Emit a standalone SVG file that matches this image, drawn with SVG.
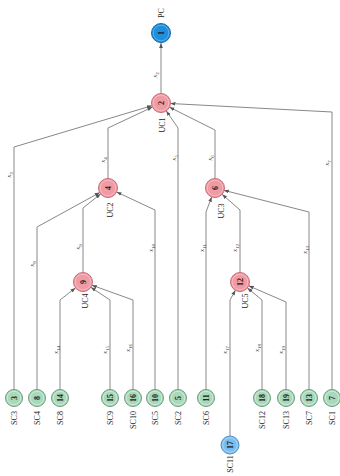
<svg xmlns="http://www.w3.org/2000/svg" width="340" height="476" viewBox="0 0 340 476">
  <defs>
    <marker id="arr" viewBox="0 0 8 6" refX="8" refY="3" markerWidth="5" markerHeight="4" orient="auto" markerUnits="userSpaceOnUse">
      <path d="M0,0 L8,3 L0,6 z" fill="#555"/>
    </marker>
  </defs>
  <style>
    text { font-family: "Liberation Serif", "Times New Roman", serif; fill: #222; text-anchor: middle; dominant-baseline: central; }
    .lbl { font-size: 8px; }
    .num { font-size: 8px; font-weight: bold; }
    .el { font-size: 7px; font-style: italic; fill: #333; }
    .sub { font-size: 5px; font-style: normal; }
    .edge { fill: none; stroke: #888; stroke-width: 1; marker-end: url(#arr); }
    .leaf .o { fill: #a9d9bb; stroke: #6d9d7e; stroke-width: 1; }
    .leaf .i { fill: none; stroke: #d8efe0; stroke-width: 0.8; }
    .mid .o { fill: #f09aa3; stroke: #c86a76; stroke-width: 1; }
    .mid .i { fill: none; stroke: #f8c4c9; stroke-width: 0.8; }
    .root .o { fill: #1f8fdc; stroke: #1468a8; stroke-width: 1; }
    .root .i { fill: none; stroke: #6cb8ee; stroke-width: 0.8; }
    .ext .o { fill: #79bdf0; stroke: #4f90c4; stroke-width: 1; }
    .ext .i { fill: none; stroke: #b9dcf7; stroke-width: 0.8; }
  </style>
  <rect width="340" height="476" fill="#ffffff"/>

  <!-- connectors: vertical run from the child, then a straight run into the parent -->
  <g id="connectors">
    <path class="edge" d="M161,93.5 L161,43"/>
    <path class="edge" d="M14,390 L14,147 L151.9,105.7"/>
    <path class="edge" d="M108,178.5 L108,128 L152.4,107.1"/>
    <path class="edge" d="M178,390 L178,128 L166.3,110.9"/>
    <path class="edge" d="M215,178.5 L215,130 L169.5,107.2"/>
    <path class="edge" d="M332,390 L332,112 L170.5,103.5"/>
    <path class="edge" d="M37,390 L37,227 L99.7,192.6"/>
    <path class="edge" d="M83,272.5 L83,208 L100.6,193.9"/>
    <path class="edge" d="M155,390 L155,210 L116.6,192"/>
    <path class="edge" d="M206,390 L206,212 L211.7,196.9"/>
    <path class="edge" d="M240,272.5 L240,210 L222.1,194.3"/>
    <path class="edge" d="M309,390 L309,212 L223.8,190.3"/>
    <path class="edge" d="M60,390 L60,300 L75.5,287.9"/>
    <path class="edge" d="M110,390 L110,300 L90.9,287.3"/>
    <path class="edge" d="M133,390 L133,300 L91.9,285.2"/>
    <path class="edge" d="M230,436 L230,300 L235.4,290.3"/>
    <path class="edge" d="M262,390 L262,300 L247.4,288"/>
    <path class="edge" d="M286,390 L286,302 L248.7,285.8"/>

    <!-- edge labels -->
    <text class="el" transform="translate(155,75) rotate(-90)">x<tspan class="sub" dy="1.5">2</tspan></text>
    <text class="el" transform="translate(9,175) rotate(-90)">x<tspan class="sub" dy="1.5">3</tspan></text>
    <text class="el" transform="translate(103,160) rotate(-90)">x<tspan class="sub" dy="1.5">4</tspan></text>
    <text class="el" transform="translate(174,158) rotate(-90)">x<tspan class="sub" dy="1.5">5</tspan></text>
    <text class="el" transform="translate(210,158) rotate(-90)">x<tspan class="sub" dy="1.5">6</tspan></text>
    <text class="el" transform="translate(327,163) rotate(-90)">x<tspan class="sub" dy="1.5">7</tspan></text>
    <text class="el" transform="translate(32,264) rotate(-90)">x<tspan class="sub" dy="1.5">8</tspan></text>
    <text class="el" transform="translate(78,247) rotate(-90)">x<tspan class="sub" dy="1.5">9</tspan></text>
    <text class="el" transform="translate(151,248) rotate(-90)">x<tspan class="sub" dy="1.5">10</tspan></text>
    <text class="el" transform="translate(202,248) rotate(-90)">x<tspan class="sub" dy="1.5">11</tspan></text>
    <text class="el" transform="translate(235,248) rotate(-90)">x<tspan class="sub" dy="1.5">12</tspan></text>
    <text class="el" transform="translate(305,250) rotate(-90)">x<tspan class="sub" dy="1.5">13</tspan></text>
    <text class="el" transform="translate(56,350) rotate(-90)">x<tspan class="sub" dy="1.5">14</tspan></text>
    <text class="el" transform="translate(105,350) rotate(-90)">x<tspan class="sub" dy="1.5">15</tspan></text>
    <text class="el" transform="translate(128,348) rotate(-90)">x<tspan class="sub" dy="1.5">16</tspan></text>
    <text class="el" transform="translate(225,350) rotate(-90)">x<tspan class="sub" dy="1.5">17</tspan></text>
    <text class="el" transform="translate(257,348) rotate(-90)">x<tspan class="sub" dy="1.5">18</tspan></text>
    <text class="el" transform="translate(281,350) rotate(-90)">x<tspan class="sub" dy="1.5">19</tspan></text>
  </g>

  <!-- root -->
  <g id="n1" class="root">
    <circle class="o" cx="161" cy="33" r="9.5"/><circle class="i" cx="161" cy="33" r="7.8"/>
    <text class="num" transform="translate(161,33) rotate(-90)">1</text>
    <text class="lbl" transform="translate(161,13) rotate(-90)">PC</text>
  </g>

  <!-- inner nodes -->
  <g id="n2" class="mid">
    <circle class="o" cx="161" cy="103" r="9.5"/><circle class="i" cx="161" cy="103" r="7.8"/>
    <text class="num" transform="translate(161,103) rotate(-90)">2</text>
    <text class="lbl" transform="translate(162,125) rotate(-90)">UC1</text>
  </g>
  <g id="n4" class="mid">
    <circle class="o" cx="108" cy="188" r="9.5"/><circle class="i" cx="108" cy="188" r="7.8"/>
    <text class="num" transform="translate(108,188) rotate(-90)">4</text>
    <text class="lbl" transform="translate(110,210) rotate(-90)">UC2</text>
  </g>
  <g id="n6" class="mid">
    <circle class="o" cx="215" cy="188" r="9.5"/><circle class="i" cx="215" cy="188" r="7.8"/>
    <text class="num" transform="translate(215,188) rotate(-90)">6</text>
    <text class="lbl" transform="translate(221,211) rotate(-90)">UC3</text>
  </g>
  <g id="n9" class="mid">
    <circle class="o" cx="83" cy="282" r="9.5"/><circle class="i" cx="83" cy="282" r="7.8"/>
    <text class="num" transform="translate(83,282) rotate(-90)">9</text>
    <text class="lbl" transform="translate(85,301) rotate(-90)">UC4</text>
  </g>
  <g id="n12" class="mid">
    <circle class="o" cx="240" cy="282" r="9.5"/><circle class="i" cx="240" cy="282" r="7.8"/>
    <text class="num" transform="translate(240,282) rotate(-90)">12</text>
    <text class="lbl" transform="translate(245,301) rotate(-90)">UC5</text>
  </g>

  <!-- leaves -->
  <g id="n3" class="leaf">
    <circle class="o" cx="14" cy="398" r="8.5"/><circle class="i" cx="14" cy="398" r="6.8"/>
    <text class="num" transform="translate(14,398) rotate(-90)">3</text>
    <text class="lbl" transform="translate(14,418) rotate(-90)">SC3</text>
  </g>
  <g id="n8" class="leaf">
    <circle class="o" cx="37" cy="398" r="8.5"/><circle class="i" cx="37" cy="398" r="6.8"/>
    <text class="num" transform="translate(37,398) rotate(-90)">8</text>
    <text class="lbl" transform="translate(37,418) rotate(-90)">SC4</text>
  </g>
  <g id="n14" class="leaf">
    <circle class="o" cx="60" cy="398" r="8.5"/><circle class="i" cx="60" cy="398" r="6.8"/>
    <text class="num" transform="translate(60,398) rotate(-90)">14</text>
    <text class="lbl" transform="translate(60,418) rotate(-90)">SC8</text>
  </g>
  <g id="n15" class="leaf">
    <circle class="o" cx="110" cy="398" r="8.5"/><circle class="i" cx="110" cy="398" r="6.8"/>
    <text class="num" transform="translate(110,398) rotate(-90)">15</text>
    <text class="lbl" transform="translate(110,418) rotate(-90)">SC9</text>
  </g>
  <g id="n16" class="leaf">
    <circle class="o" cx="133" cy="398" r="8.5"/><circle class="i" cx="133" cy="398" r="6.8"/>
    <text class="num" transform="translate(133,398) rotate(-90)">16</text>
    <text class="lbl" transform="translate(133,420) rotate(-90)">SC10</text>
  </g>
  <g id="n10" class="leaf">
    <circle class="o" cx="155" cy="398" r="8.5"/><circle class="i" cx="155" cy="398" r="6.8"/>
    <text class="num" transform="translate(155,398) rotate(-90)">10</text>
    <text class="lbl" transform="translate(155,418) rotate(-90)">SC5</text>
  </g>
  <g id="n5" class="leaf">
    <circle class="o" cx="178" cy="398" r="8.5"/><circle class="i" cx="178" cy="398" r="6.8"/>
    <text class="num" transform="translate(178,398) rotate(-90)">5</text>
    <text class="lbl" transform="translate(178,418) rotate(-90)">SC2</text>
  </g>
  <g id="n11" class="leaf">
    <circle class="o" cx="206" cy="398" r="8.5"/><circle class="i" cx="206" cy="398" r="6.8"/>
    <text class="num" transform="translate(206,398) rotate(-90)">11</text>
    <text class="lbl" transform="translate(206,418) rotate(-90)">SC6</text>
  </g>
  <g id="n18" class="leaf">
    <circle class="o" cx="262" cy="398" r="8.5"/><circle class="i" cx="262" cy="398" r="6.8"/>
    <text class="num" transform="translate(262,398) rotate(-90)">18</text>
    <text class="lbl" transform="translate(262,420) rotate(-90)">SC12</text>
  </g>
  <g id="n19" class="leaf">
    <circle class="o" cx="286" cy="398" r="8.5"/><circle class="i" cx="286" cy="398" r="6.8"/>
    <text class="num" transform="translate(286,398) rotate(-90)">19</text>
    <text class="lbl" transform="translate(286,420) rotate(-90)">SC13</text>
  </g>
  <g id="n13" class="leaf">
    <circle class="o" cx="309" cy="398" r="8.5"/><circle class="i" cx="309" cy="398" r="6.8"/>
    <text class="num" transform="translate(309,398) rotate(-90)">13</text>
    <text class="lbl" transform="translate(309,418) rotate(-90)">SC7</text>
  </g>
  <g id="n7" class="leaf">
    <circle class="o" cx="332" cy="398" r="8.5"/><circle class="i" cx="332" cy="398" r="6.8"/>
    <text class="num" transform="translate(332,398) rotate(-90)">7</text>
    <text class="lbl" transform="translate(332,418) rotate(-90)">SC1</text>
  </g>

  <!-- external leaf -->
  <g id="n17" class="ext">
    <circle class="o" cx="230" cy="445" r="9"/><circle class="i" cx="230" cy="445" r="7.3"/>
    <text class="num" transform="translate(230,445) rotate(-90)">17</text>
    <text class="lbl" transform="translate(230,464) rotate(-90)">SC11</text>
  </g>
</svg>
